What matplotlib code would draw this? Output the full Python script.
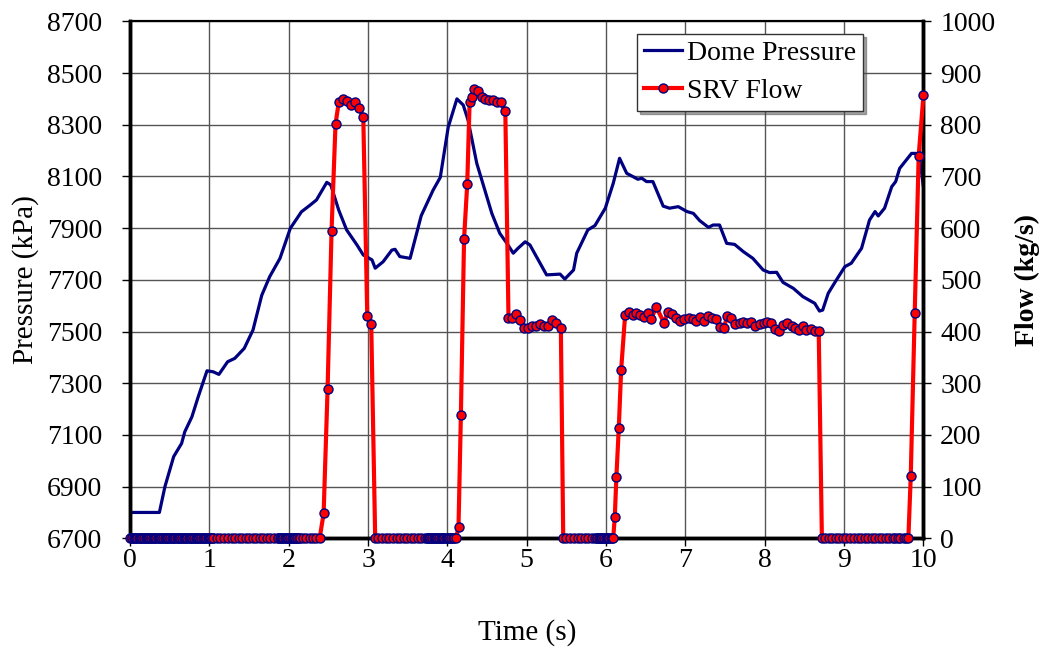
import numpy as np
import matplotlib
matplotlib.use("Agg")
import matplotlib.pyplot as plt

plt.rcParams['font.family'] = ['Liberation Serif', 'DejaVu Serif']
plt.rcParams['path.simplify'] = False

# Dome pressure (kPa)
t_p = [0, 0.37, 0.44, 0.55, 0.65, 0.69, 0.78, 0.86, 0.97, 1.05, 1.12, 1.23, 1.32, 1.44, 1.55,
       1.66, 1.76, 1.89, 2.02, 2.16, 2.27, 2.35, 2.48, 2.53, 2.63, 2.73, 2.86, 2.94, 3.05, 3.09,
       3.19, 3.30, 3.34, 3.40, 3.53, 3.67, 3.82, 3.91, 4.01, 4.12, 4.20, 4.26, 4.37, 4.56, 4.66,
       4.75, 4.83, 4.89, 4.98, 5.04, 5.25, 5.42, 5.48, 5.59, 5.63, 5.77, 5.86, 5.99, 6.09, 6.17,
       6.26, 6.34, 6.40, 6.45, 6.51, 6.59, 6.72, 6.80, 6.91, 7.02, 7.10, 7.18, 7.29, 7.35, 7.43,
       7.52, 7.62, 7.73, 7.85, 7.98, 8.06, 8.15, 8.23, 8.36, 8.48, 8.63, 8.69, 8.73, 8.80, 8.89,
       9.01, 9.09, 9.22, 9.32, 9.39, 9.43, 9.51, 9.60, 9.65, 9.70, 9.85, 9.91, 9.95, 10.0]
pressure = [6800, 6800, 6900, 7016, 7067, 7112, 7170, 7248, 7348, 7344, 7334, 7383, 7396, 7435, 7506,
            7640, 7712, 7783, 7899, 7963, 7989, 8009, 8077, 8067, 7970, 7893, 7835, 7796, 7777, 7745,
            7770, 7815, 7818, 7790, 7783, 7948, 8047, 8096, 8290, 8400, 8376, 8318, 8151, 7957, 7880,
            7841, 7803, 7822, 7847, 7835, 7719, 7722, 7703, 7738, 7803, 7893, 7910, 7977, 8073, 8170,
            8112, 8099, 8089, 8093, 8080, 8080, 7985, 7977, 7983, 7964, 7957, 7929, 7903, 7912, 7912,
            7841, 7837, 7809, 7783, 7738, 7728, 7729, 7690, 7667, 7635, 7609, 7579, 7583, 7648, 7693,
            7751, 7764, 7822, 7931, 7964, 7947, 7977, 8060, 8080, 8131, 8189, 8189, 8176, 8060]

# SRV flow (kg/s): closed stretches (flow 0) and open stretches
t_closed1 = [0.00, 0.02, 0.03, 0.05, 0.06, 0.08, 0.09, 0.11, 0.12, 0.14, 0.15, 0.17, 0.18, 0.20,
             0.21, 0.23, 0.24, 0.26, 0.27, 0.29, 0.30, 0.32, 0.33, 0.35, 0.36, 0.38, 0.39, 0.41,
             0.42, 0.44, 0.45, 0.47, 0.48, 0.50, 0.51, 0.53, 0.54, 0.56, 0.57, 0.59, 0.60, 0.62,
             0.63, 0.65, 0.66, 0.68, 0.69, 0.71, 0.72, 0.74, 0.75, 0.77, 0.78, 0.80, 0.81, 0.83,
             0.84, 0.86, 0.87, 0.89, 0.90, 0.92, 0.93, 0.95, 0.96, 0.98, 0.99, 1.01, 1.02, 1.04,
             1.05, 1.10, 1.14, 1.19, 1.23, 1.28, 1.32, 1.37, 1.41, 1.46, 1.50, 1.55, 1.59, 1.64,
             1.68, 1.73, 1.77, 1.82, 1.86, 1.87, 1.89, 1.90, 1.92, 1.93, 1.95, 1.96, 1.98, 1.99,
             2.01, 2.02, 2.04, 2.05, 2.07, 2.08, 2.10, 2.11, 2.13, 2.14, 2.18, 2.22, 2.27, 2.31,
             2.35, 2.39]
t_open1 = [2.44, 2.49, 2.54, 2.59, 2.63, 2.69, 2.74, 2.78, 2.84, 2.89, 2.94, 2.99, 3.04]
f_open1 = [48, 289, 595, 801, 843, 850, 846, 838, 843, 833, 814, 430, 414]
t_closed2 = [3.09, 3.13, 3.18, 3.22, 3.27, 3.31, 3.36, 3.40, 3.45, 3.49, 3.54, 3.58, 3.63, 3.67,
             3.72, 3.74, 3.75, 3.77, 3.78, 3.80, 3.81, 3.83, 3.84, 3.86, 3.87, 3.89, 3.90, 3.92,
             3.93, 3.95, 3.96, 3.98, 3.99, 4.01, 4.02, 4.04, 4.05, 4.07, 4.08, 4.11]
t_open2 = [4.14, 4.17, 4.21, 4.25, 4.28, 4.31, 4.34, 4.38, 4.43, 4.48, 4.52, 4.57, 4.62, 4.67,
           4.73, 4.77, 4.82, 4.87, 4.92, 4.97, 5.02, 5.07, 5.12, 5.17, 5.22, 5.27, 5.32, 5.37, 5.43]
f_open2 = [22, 238, 579, 685, 844, 854, 869, 866, 854, 849, 848, 848, 843, 843,
           827, 427, 427, 433, 422, 407, 407, 411, 411, 414, 411, 411, 422, 416, 407]
t_closed3 = [5.46, 5.50, 5.55, 5.59, 5.64, 5.68, 5.73, 5.77, 5.82, 5.86, 5.88, 5.89, 5.91, 5.92,
             5.94, 5.95, 5.97, 5.98, 6.00, 6.01, 6.03, 6.04, 6.06, 6.07, 6.09]
t_open3 = [6.11, 6.13, 6.16, 6.19, 6.24, 6.29, 6.34, 6.38, 6.43, 6.48, 6.53, 6.57, 6.63, 6.73,
           6.78, 6.83, 6.88, 6.93, 6.98, 7.04, 7.09, 7.13, 7.18, 7.23, 7.28, 7.33, 7.38, 7.43,
           7.48, 7.53, 7.58, 7.63, 7.69, 7.73, 7.78, 7.83, 7.88, 7.94, 7.99, 8.03, 8.08, 8.13,
           8.18, 8.23, 8.28, 8.34, 8.38, 8.43, 8.48, 8.52, 8.58, 8.63, 8.68]
f_open3 = [42, 119, 213, 326, 432, 438, 432, 436, 432, 429, 436, 424, 448, 417,
           437, 433, 427, 421, 424, 427, 424, 421, 429, 420, 430, 427, 424, 408,
           406, 430, 426, 415, 416, 418, 416, 419, 411, 415, 417, 419, 416, 405,
           401, 413, 416, 411, 406, 403, 411, 403, 405, 401, 401]
t_closed4 = [8.72, 8.76, 8.81, 8.85, 8.90, 8.94, 8.99, 9.03, 9.08, 9.12, 9.17, 9.21, 9.26, 9.30,
             9.35, 9.39, 9.44, 9.48, 9.53, 9.57, 9.61, 9.64, 9.68, 9.71, 9.75, 9.78, 9.81]
t_open4 = [9.84, 9.89, 9.94, 10.0]
f_open4 = [120, 436, 740, 857]

t_f = (t_closed1 + t_open1 + t_closed2 + t_open2 + t_closed3 + t_open3 + t_closed4 + t_open4)
flow = ([0] * len(t_closed1) + f_open1 + [0] * len(t_closed2) + f_open2 +
        [0] * len(t_closed3) + f_open3 + [0] * len(t_closed4) + f_open4)

fs = 20

fig = plt.figure(figsize=(10.52, 6.48), dpi=100)
ax = fig.add_axes([0.1236, 0.1693, 0.7542, 0.7978])
ax2 = ax.twinx()

ax.plot(t_p, pressure, color='#000080', lw=2.3, label='Dome Pressure', zorder=3)
ax2.plot(t_f, flow, color='red', lw=3, marker='o', ms=6.5, mfc='red', mec='#000080',
         mew=1, label='SRV Flow', zorder=4, clip_on=False)

ax.set_xlim(0, 10)
ax.set_ylim(6700, 8700)
ax2.set_ylim(0, 1000)
ax.set_xticks(range(0, 11))
ax.set_yticks(range(6700, 8701, 200))
ax2.set_yticks(range(0, 1001, 100))

ax.grid(True, color='#555555', lw=1.0)
ax.set_axisbelow(True)

for a in (ax, ax2):
    a.tick_params(direction='out', length=6, width=1, labelsize=fs)
    for s in ('left', 'bottom', 'right'):
        a.spines[s].set_linewidth(2.5)
    a.spines['top'].set_linewidth(1.5)
ax.tick_params(axis='x', pad=1)
ax.tick_params(axis='y', pad=14)
ax2.tick_params(axis='y', pad=6)

ax.set_xlabel('Time (s)', fontsize=21, labelpad=33)
ax.set_ylabel('Pressure (kPa)', fontsize=21, labelpad=6)
ax2.set_ylabel('Flow (kg/s)', fontsize=fs, fontweight='bold', labelpad=14)

h1, l1 = ax.get_legend_handles_labels()
h2, l2 = ax2.get_legend_handles_labels()
leg = ax2.legend(h1 + h2, l1 + l2, loc='upper right', bbox_to_anchor=(0.924, 0.976),
                 fontsize=fs, frameon=True, fancybox=False, shadow=True, framealpha=1,
                 edgecolor='#333333', handlelength=1.35, borderpad=0.25, labelspacing=0.45,
                 handletextpad=0.2, borderaxespad=0)
leg.get_frame().set_linewidth(1.0)
for ln in leg.get_lines():
    if ln.get_label() == 'SRV Flow':
        ln.set_markevery([1])

fig.savefig('out.png', dpi=100)
